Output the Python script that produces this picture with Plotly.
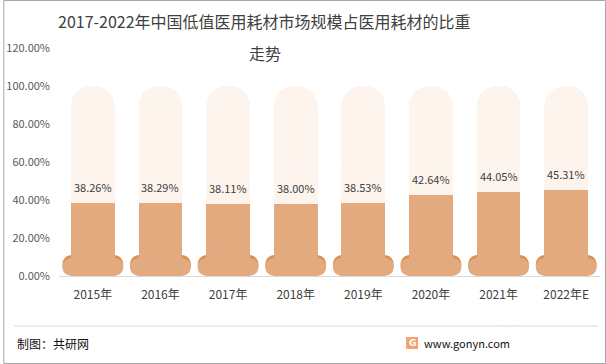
import plotly.graph_objects as go

categories = ["2015年", "2016年", "2017年", "2018年", "2019年", "2020年", "2021年", "2022年E"]
values = [38.26, 38.29, 38.11, 38.00, 38.53, 42.64, 44.05, 45.31]
full_scale = 100
y_ticks = [0, 20, 40, 60, 80, 100, 120]
y_tick_labels = ["0.00%", "20.00%", "40.00%", "60.00%", "80.00%", "100.00%", "120.00%"]

title_line1 = "2017-2022年中国低值医用耗材市场规模占医用耗材的比重"
title_line2 = "走势"

FONT = "Noto Sans CJK SC"
ORANGE = "#E2AA7E"
DARK = "#D8914F"
CREAM = "#FDF4EE"

xs = list(range(len(categories)))
remain = [full_scale - v for v in values]

fig = go.Figure()
fig.add_trace(go.Bar(x=xs, y=values, width=0.647, marker=dict(color=ORANGE, line=dict(width=0)),
                     hoverinfo="skip"))
fig.add_trace(go.Bar(x=xs, y=remain, width=0.647, marker=dict(color=CREAM, line=dict(width=0)),
                     hoverinfo="skip"))


def rounded(cx, hw, y0, y1, rx, ry):
    x0, x1 = cx - hw, cx + hw
    return (f"M {x0+rx},{y0} L {x1-rx},{y0} Q {x1},{y0} {x1},{y0+ry} "
            f"L {x1},{y1-ry} Q {x1},{y1} {x1-rx},{y1} L {x0+rx},{y1} "
            f"Q {x0},{y1} {x0},{y1-ry} L {x0},{y0+ry} Q {x0},{y0} {x0+rx},{y0} Z")


def px(xp, yp):
    return (xp - 56) / 544, (276 - yp) / 228


shapes = []
for i in xs:
    shapes.append(dict(type="path", xref="x", yref="y", layer="below",
                       path=rounded(i, 0.45, 1.0, 11.2, 0.17, 5.6),
                       fillcolor=DARK, line=dict(width=0)))
    shapes.append(dict(type="path", xref="x", yref="y", layer="below",
                       path=rounded(i, 0.45, 0.0, 9.6, 0.18, 4.9),
                       fillcolor=ORANGE, line=dict(width=0)))

# footer line and border
lx0, ly = px(11, 326)
lx1, _ = px(598, 326)
shapes.append(dict(type="line", xref="paper", yref="paper", x0=lx0, x1=lx1,
                   y0=ly, y1=ly, line=dict(color="#D9D9D9", width=1)))
bx0, by0 = px(0.5, 363.5)
bx1, by1 = px(605.5, 0.5)
shapes.append(dict(type="rect", xref="paper", yref="paper",
                   x0=bx0, x1=bx1, y0=by0, y1=by1,
                   line=dict(color="#A6A6A6", width=1), fillcolor="rgba(0,0,0,0)"))
# logo square
gx0, gy0 = px(405, 349)
gx1, gy1 = px(417, 337)
shapes.append(dict(type="rect", xref="paper", yref="paper",
                   x0=gx0, x1=gx1, y0=gy0, y1=gy1,
                   fillcolor="#F2A373", line=dict(width=0)))

annotations = []
for i, v in zip(xs, values):
    annotations.append(dict(x=i, y=v, xref="x", yref="y", text=f"{v:.2f}%", showarrow=False,
                            yanchor="bottom", yshift=6,
                            font=dict(family=FONT, size=11, color="#404040")))

# watermarks
for (wx, wy) in [(170, 60), (280, 140), (480, 130), (140, 230), (470, 300)]:
    ax, ay = px(wx, wy)
    annotations.append(dict(x=ax, y=ay, xref="paper", yref="paper", text="<b>共研网</b>",
                            showarrow=False, textangle=-15, xanchor="center", yanchor="middle",
                            font=dict(family=FONT, size=34, color="rgba(0,0,0,0.022)")))
    ax2, ay2 = px(wx + 10, wy + 30)
    annotations.append(dict(x=ax2, y=ay2, xref="paper", yref="paper", text="w w w . g o n y n . c o m",
                            showarrow=False, textangle=-15, xanchor="center", yanchor="middle",
                            font=dict(family=FONT, size=12, color="rgba(0,0,0,0.03)")))

tx, ty = px(263, 21)
annotations.append(dict(x=tx, y=ty, xref="paper", yref="paper", text=title_line1, showarrow=False,
                        xanchor="center", yanchor="middle",
                        font=dict(family=FONT, size=16, color="#404040")))
tx, ty = px(263, 53)
annotations.append(dict(x=tx, y=ty, xref="paper", yref="paper", text=title_line2, showarrow=False,
                        xanchor="center", yanchor="middle",
                        font=dict(family=FONT, size=16, color="#404040")))
fx, fy = px(12, 343)
annotations.append(dict(x=fx, y=fy, xref="paper", yref="paper", text="制图：共研网", showarrow=False,
                        xanchor="left", yanchor="middle", font=dict(family=FONT, size=12, color="#111111")))
fx, fy = px(421, 343)
annotations.append(dict(x=fx, y=fy, xref="paper", yref="paper", text="www.gonyn.com", showarrow=False,
                        xanchor="left", yanchor="middle", font=dict(family=FONT, size=11, color="#111111")))
lx, lyy = px(411, 343)
annotations.append(dict(x=lx, y=lyy, xref="paper", yref="paper", text="<b>G</b>", showarrow=False,
                        xanchor="center", yanchor="middle",
                        font=dict(family="DejaVu Sans", size=9, color="white")))

fig.update_layout(
    width=606, height=364,
    margin=dict(l=56, r=6, t=48, b=88),
    paper_bgcolor="white", plot_bgcolor="white",
    barmode="stack", barcornerradius=20,
    showlegend=False,
    xaxis=dict(range=[-0.5, 7.5], tickvals=xs, ticktext=categories, showgrid=False,
               showline=True, linecolor="#D9D9D9", linewidth=1, ticks="", zeroline=False,
               ticklabelstandoff=8,
               tickfont=dict(family=FONT, size=12, color="#404040"), fixedrange=True),
    yaxis=dict(range=[0, 120], tickvals=y_ticks, ticktext=y_tick_labels, showgrid=False,
               zeroline=False, showline=False, ticks="", ticklabelstandoff=8,
               tickfont=dict(family=FONT, size=11, color="#595959"), fixedrange=True),
    shapes=shapes,
    annotations=annotations,
)

fig.write_html("out.html", config={"displayModeBar": False},
               post_script="document.body.style.margin='0';document.body.style.overflow='hidden';")
